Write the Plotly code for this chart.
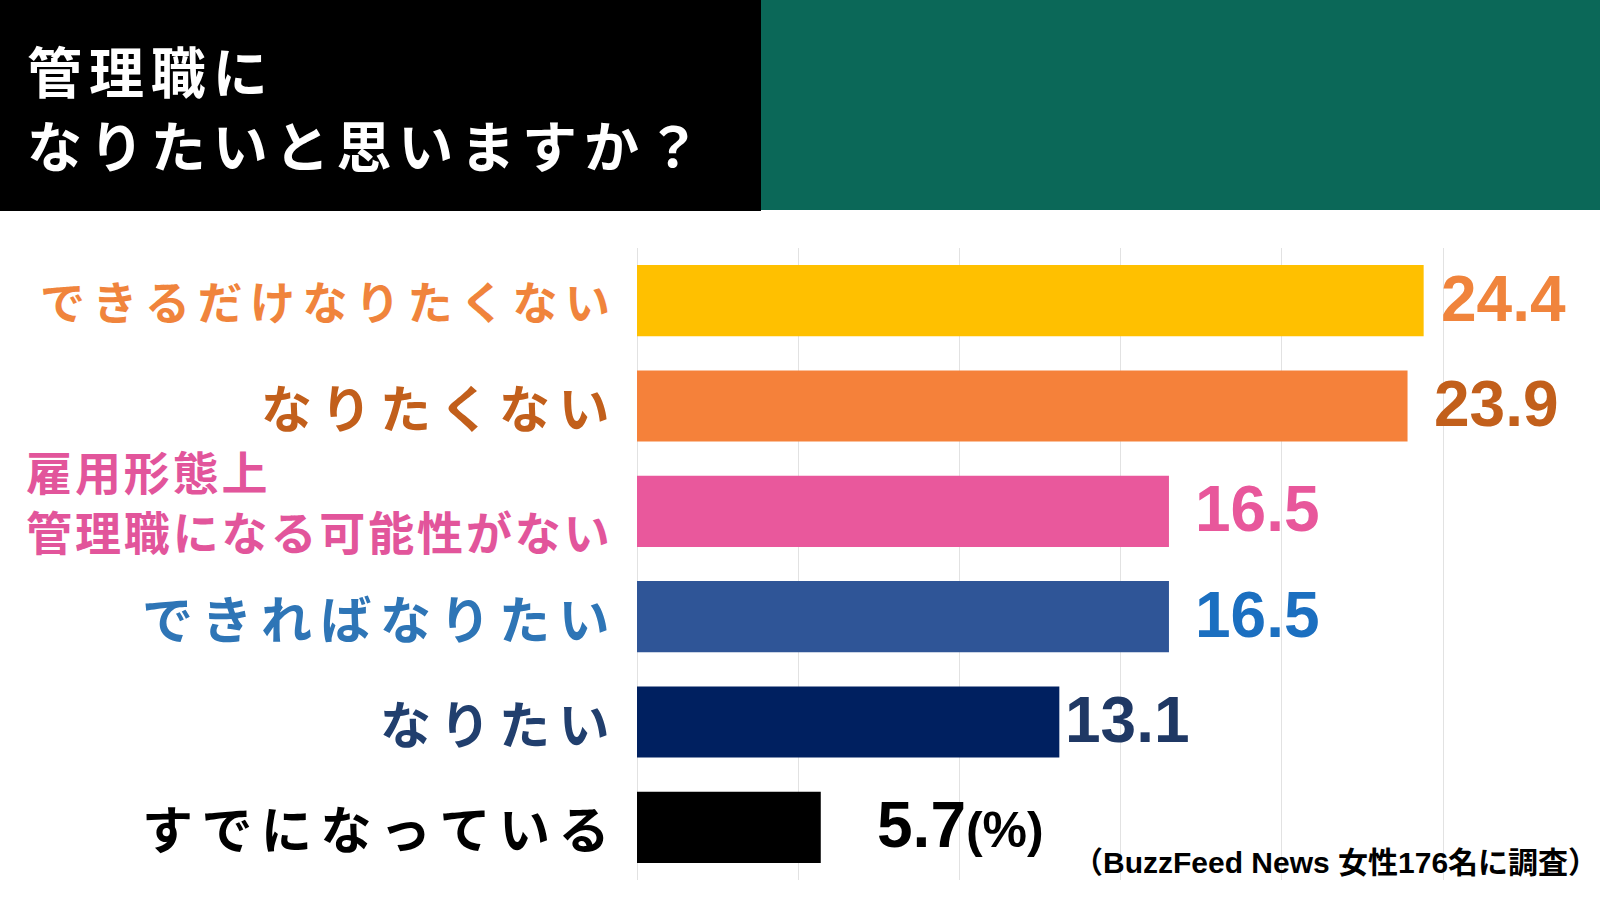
import plotly.graph_objects as go

# ---- data ----
categories = [
    "できるだけなりたくない",
    "なりたくない",
    "雇用形態上\n管理職になる可能性がない",
    "できればなりたい",
    "なりたい",
    "すでになっている",
]
values = [24.4, 23.9, 16.5, 16.5, 13.1, 5.7]
value_labels = ["24.4", "23.9", "16.5", "16.5", "13.1", "5.7"]
unit_label = "(%)"
x_ticks = [0, 5, 10, 15, 20, 25]
title_lines = ["管理職に", "なりたいと思いますか？"]
source_note = "（BuzzFeed News 女性176名に調査）"

# ---- styles ----
bar_colors = ["#ffc000", "#f5813a", "#e9589c", "#2f5597", "#002060", "#000000"]
label_colors = ["#f0843c", "#c25f1b", "#e2559b", "#2e75b6", "#213f6e", "#000000"]
value_colors = ["#f0843c", "#c25f1b", "#e8579b", "#1b6fc0", "#1f3864", "#000000"]
label_sizes = [45, 51, 46, 51, 51, 51]
label_seps = ["\u2006", "\u2006", "\u200a", "\u2006", "\u2006", "\u2006"]
label_yshift = [0, 0, 11, 0, 0, 0]
value_xshift = [15, 24, 24, 24, 4, 54]
title_ypx = [69, 143]

W, H = 1600, 900
PX0 = 637
PX_PER_UNIT = 32.24
CJK = "Noto Sans CJK JP, Noto Sans, sans-serif"
NUM = "Liberation Sans, Arial, sans-serif"


def spaced(s, sep):
    return "<br>".join(sep.join(list(line)) for line in s.split("\n"))


fig = go.Figure(
    go.Bar(
        x=values,
        y=categories,
        orientation="h",
        marker=dict(color=bar_colors, line=dict(width=0)),
        hoverinfo="skip",
    )
)

ann = []
for i, c in enumerate(categories):
    ann.append(dict(
        x=0, y=c, xref="x", yref="y",
        text="<b>" + spaced(c, label_seps[i]) + "</b>",
        showarrow=False, xanchor="right", yanchor="middle",
        align="left", xshift=-25, yshift=label_yshift[i],
        font=dict(family=CJK, size=label_sizes[i], color=label_colors[i]),
    ))
    txt = value_labels[i]
    if i == len(categories) - 1:
        txt = txt + "<span style='font-size:50px'>" + unit_label + "</span>"
    ann.append(dict(
        x=values[i], y=c, xref="x", yref="y",
        text="<b>" + txt + "</b>",
        showarrow=False, xanchor="left", yanchor="middle",
        xshift=value_xshift[i], yshift=2,
        font=dict(family=NUM, size=64, color=value_colors[i]),
    ))

for line, ypx in zip(title_lines, title_ypx):
    ann.append(dict(
        x=25 / W, y=1 - ypx / H, xref="paper", yref="paper",
        text="<b>" + "\u200a\u200a".join(list(line)) + "</b>",
        showarrow=False, xanchor="left", yanchor="middle", align="left",
        font=dict(family=CJK, size=55, color="white"),
    ))

ann.append(dict(
    x=1.0, y=1 - 862 / H, xref="paper", yref="paper",
    text="<b>" + source_note + "</b>",
    showarrow=False, xanchor="right", yanchor="middle",
    font=dict(family=NUM + ", " + CJK, size=30, color="#000000"),
))

fig.update_layout(
    width=W, height=H, autosize=False,
    margin=dict(l=0, r=0, t=0, b=0, pad=0),
    paper_bgcolor="white", plot_bgcolor="white",
    showlegend=False,
    bargap=0.325,
    xaxis=dict(
        domain=[PX0 / W, 1], range=[0, (W - PX0) / PX_PER_UNIT],
        tickvals=x_ticks, showticklabels=False, ticks="",
        showgrid=True, gridcolor="#e2e2e2", gridwidth=1,
        zeroline=True, zerolinecolor="#e2e2e2", zerolinewidth=1,
        showline=False, fixedrange=True,
    ),
    yaxis=dict(
        domain=[1 - 880 / H, 1 - 248 / H],
        categoryorder="array", categoryarray=categories,
        autorange="reversed", showticklabels=False, ticks="",
        showgrid=False, zeroline=False, showline=False, fixedrange=True,
    ),
    shapes=[
        dict(type="rect", xref="paper", yref="paper", x0=0, x1=761 / W,
             y0=1 - 211 / H, y1=1, fillcolor="#000000", line=dict(width=0), layer="above"),
        dict(type="rect", xref="paper", yref="paper", x0=761 / W, x1=1,
             y0=1 - 210 / H, y1=1, fillcolor="#0b6858", line=dict(width=0), layer="above"),
    ],
    annotations=ann,
)

fig.write_html("out.html")
